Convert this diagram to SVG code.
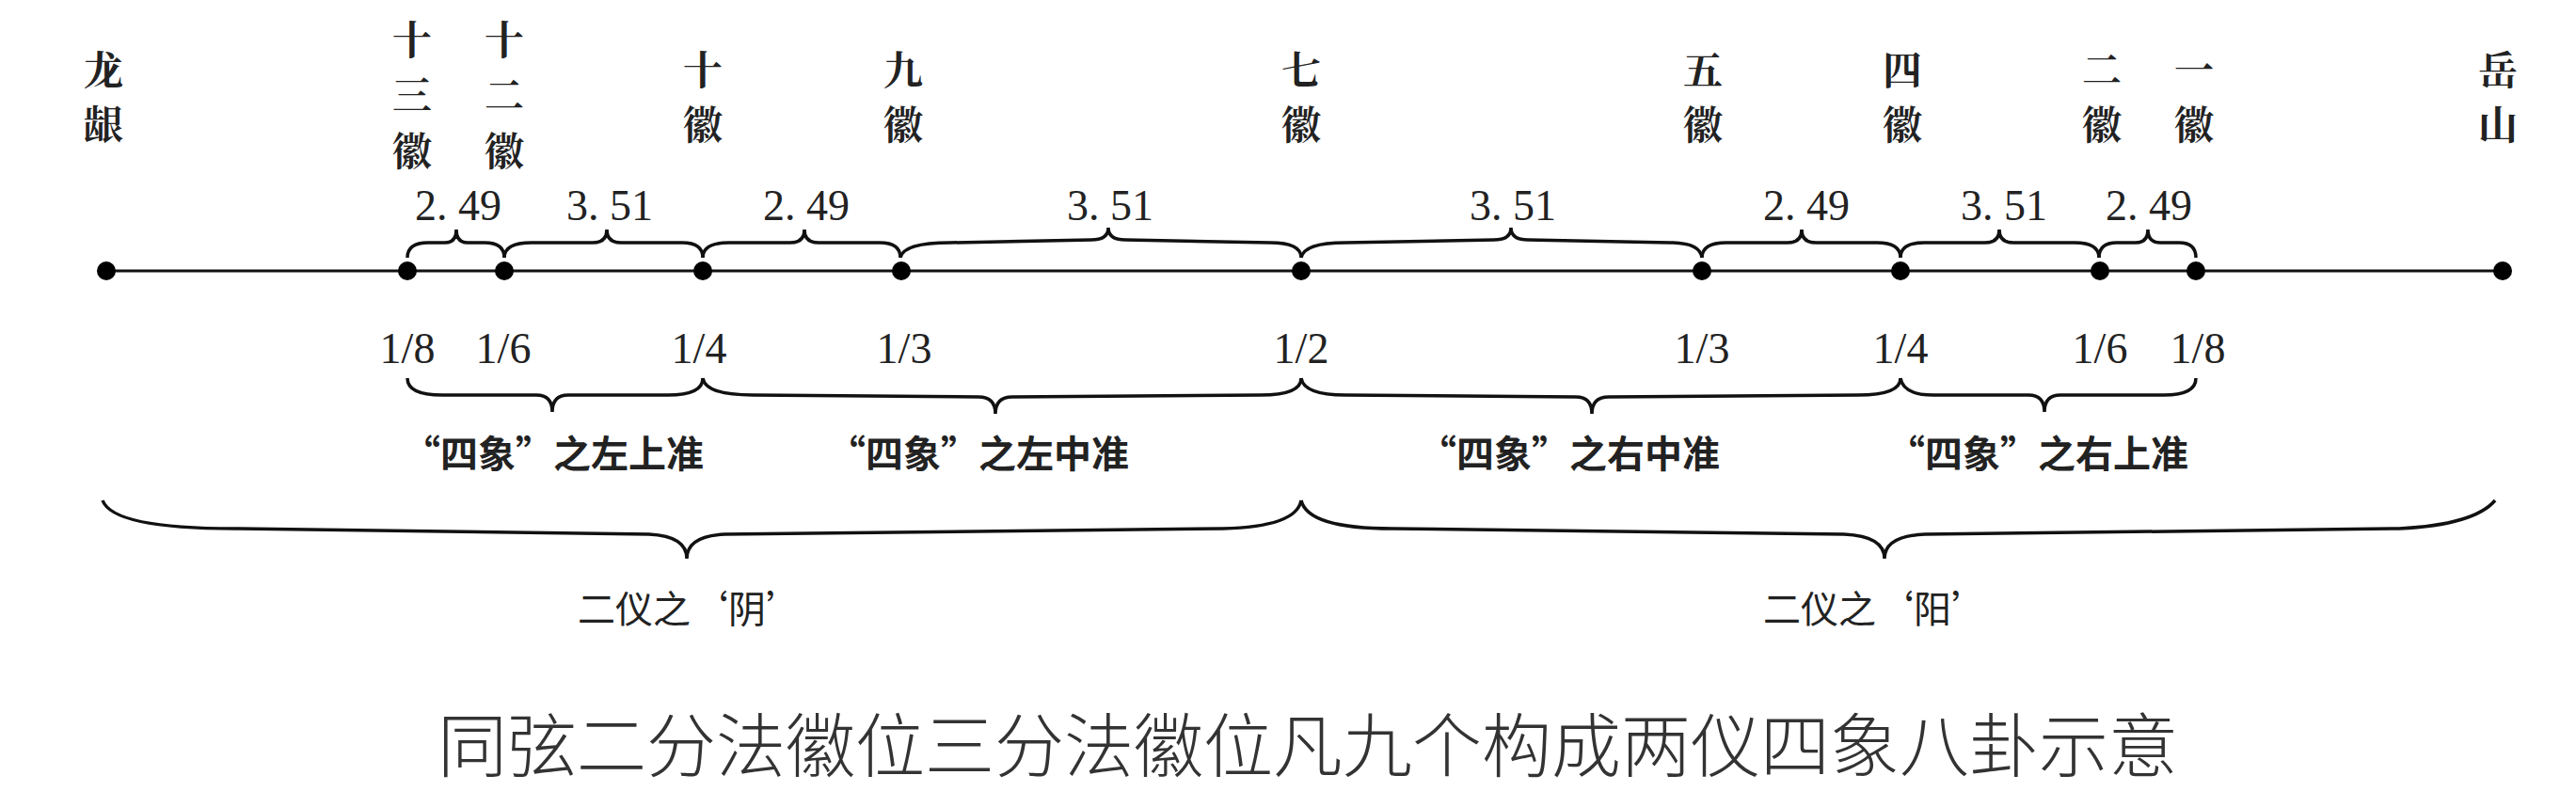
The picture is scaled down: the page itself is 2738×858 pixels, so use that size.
<svg xmlns="http://www.w3.org/2000/svg" width="2738" height="858" viewBox="0 0 2738 858">
<style>
.lab{font-family:"Noto Serif CJK SC","Noto Sans CJK SC",serif;font-size:42px;font-weight:bold;fill:#222;text-anchor:middle}
.num{font-family:"Liberation Serif",serif;font-size:46px;fill:#222;text-anchor:middle}
.cap{font-family:"Noto Sans CJK SC",sans-serif;font-size:40px;font-weight:bold;fill:#222;text-anchor:middle}
.yi{font-family:"Noto Sans CJK SC",sans-serif;font-size:40px;font-weight:normal;fill:#222;text-anchor:middle}
.title{font-family:"Noto Sans CJK SC",sans-serif;font-size:74px;font-weight:300;fill:#333;text-anchor:middle}
.br{fill:none;stroke:#111;stroke-width:3.5}
.dot{fill:#000}
</style>
<rect width="2738" height="858" fill="#fff"/>
<g id="connectors">
<line x1="113" y1="288" x2="2659" y2="288" stroke="#111" stroke-width="3"/>
<g class="br">
<path d="M433,274 Q433,258 455,258 L473,258 Q485,258 485,244 Q485,258 497,258 L515,258 Q536,258 536,274"/>
<path d="M536,274 Q536,258 565,258 L630,258 Q645,258 645,244 Q645,258 660,258 L725,258 Q747,258 747,274"/>
<path d="M747,274 Q747,258 775,258 L840,258 Q855,258 855,244 Q855,258 870,258 L935,258 Q957,258 957,274"/>
<path d="M957,274 Q960,258 1010,258 L1160,255 Q1178,255 1178,242 Q1178,255 1196,255 L1350,258 Q1383,258 1383,274"/>
<path d="M1383,274 Q1386,258 1430,258 L1588,255 Q1606,255 1606,242 Q1606,255 1624,255 L1775,258 Q1807,258 1809,274"/>
<path d="M1809,274 Q1809,258 1835,258 L1900,258 Q1915,258 1915,244 Q1915,258 1930,258 L1995,258 Q2020,258 2020,274"/>
<path d="M2020,274 Q2020,258 2045,258 L2110,258 Q2125,258 2125,244 Q2125,258 2140,258 L2205,258 Q2231,258 2231,274"/>
<path d="M2231,274 Q2231,258 2250,258 L2270,258 Q2283,258 2283,244 Q2283,258 2296,258 L2316,258 Q2334,258 2334,274"/>
<path d="M433,402 Q433,420 470,420 L570,420 Q587,420 587,438 Q587,420 604,420 L710,420 Q747,420 747,402"/>
<path d="M747,402 Q750,420 800,420 L1040,422 Q1058,422 1058,440 Q1058,422 1076,422 L1340,420 Q1383,420 1383,402"/>
<path d="M1383,402 Q1386,420 1430,420 L1675,422 Q1692,422 1692,440 Q1692,422 1710,422 L1975,420 Q2020,420 2020,402"/>
<path d="M2020,402 Q2023,420 2055,420 L2156,420 Q2173,420 2173,438 Q2173,420 2190,420 L2300,420 Q2334,420 2334,402"/>
<path d="M109,532 Q120,562 250,562 L690,568 Q730,570 730,594 Q730,570 770,568 L1300,562 Q1378,560 1383,532"/>
<path d="M1383,532 Q1390,562 1480,562 L1960,568 Q2003,570 2003,594 Q2003,570 2046,568 L2550,562 Q2630,558 2652,532"/>
</g>
</g>
<g id="dots">
<circle class="dot" cx="113" cy="288" r="10"/><circle class="dot" cx="433" cy="288" r="10"/><circle class="dot" cx="536" cy="288" r="10"/><circle class="dot" cx="747" cy="288" r="10"/><circle class="dot" cx="958" cy="288" r="10"/><circle class="dot" cx="1383" cy="288" r="10"/><circle class="dot" cx="1809" cy="288" r="10"/><circle class="dot" cx="2020" cy="288" r="10"/><circle class="dot" cx="2232" cy="288" r="10"/><circle class="dot" cx="2334" cy="288" r="10"/><circle class="dot" cx="2660" cy="288" r="10"/>
</g>
<g id="top-labels">
<g id="n-longyin"><text class="lab" x="110" y="90">龙</text><text class="lab" x="110" y="148">龈</text></g>
<g id="n-13"><text class="lab" x="438" y="58">十</text><text class="lab" x="438" y="117">三</text><text class="lab" x="438" y="176">徽</text></g>
<g id="n-12"><text class="lab" x="536" y="58">十</text><text class="lab" x="536" y="117">二</text><text class="lab" x="536" y="176">徽</text></g>
<g id="n-10"><text class="lab" x="747" y="90">十</text><text class="lab" x="747" y="148">徽</text></g>
<g id="n-9"><text class="lab" x="960" y="90">九</text><text class="lab" x="960" y="148">徽</text></g>
<g id="n-7"><text class="lab" x="1383" y="90">七</text><text class="lab" x="1383" y="148">徽</text></g>
<g id="n-5"><text class="lab" x="1810" y="90">五</text><text class="lab" x="1810" y="148">徽</text></g>
<g id="n-4"><text class="lab" x="2022" y="90">四</text><text class="lab" x="2022" y="148">徽</text></g>
<g id="n-2"><text class="lab" x="2234" y="90">二</text><text class="lab" x="2234" y="148">徽</text></g>
<g id="n-1"><text class="lab" x="2332" y="90">一</text><text class="lab" x="2332" y="148">徽</text></g>
<g id="n-yueshan"><text class="lab" x="2655" y="90">岳</text><text class="lab" x="2655" y="148">山</text></g>
</g>
<g id="numbers">
<text class="num" x="487" y="234">2. 49</text><text class="num" x="648" y="234">3. 51</text><text class="num" x="857" y="234">2. 49</text><text class="num" x="1180" y="234">3. 51</text>
<text class="num" x="1608" y="234">3. 51</text><text class="num" x="1920" y="234">2. 49</text><text class="num" x="2130" y="234">3. 51</text><text class="num" x="2284" y="234">2. 49</text>
</g>
<g id="fractions">
<text class="num" x="433" y="386">1/8</text><text class="num" x="535" y="386">1/6</text><text class="num" x="743" y="386">1/4</text><text class="num" x="961" y="386">1/3</text><text class="num" x="1383" y="386">1/2</text>
<text class="num" x="1809" y="386">1/3</text><text class="num" x="2020" y="386">1/4</text><text class="num" x="2232" y="386">1/6</text><text class="num" x="2336" y="386">1/8</text>
</g>
<g id="sixiang">
<text class="cap" x="588" y="497">“四象”之左上准</text>
<text class="cap" x="1040" y="497">“四象”之左中准</text>
<text class="cap" x="1668" y="497">“四象”之右中准</text>
<text class="cap" x="2166" y="497">“四象”之右上准</text>
</g>
<g id="liangyi">
<text class="yi" x="734" y="662">二仪之‘阴’</text>
<text class="yi" x="1994" y="662">二仪之‘阳’</text>
</g>
<text class="title" x="1390" y="820">同弦二分法徽位三分法徽位凡九个构成两仪四象八卦示意</text>
</svg>
